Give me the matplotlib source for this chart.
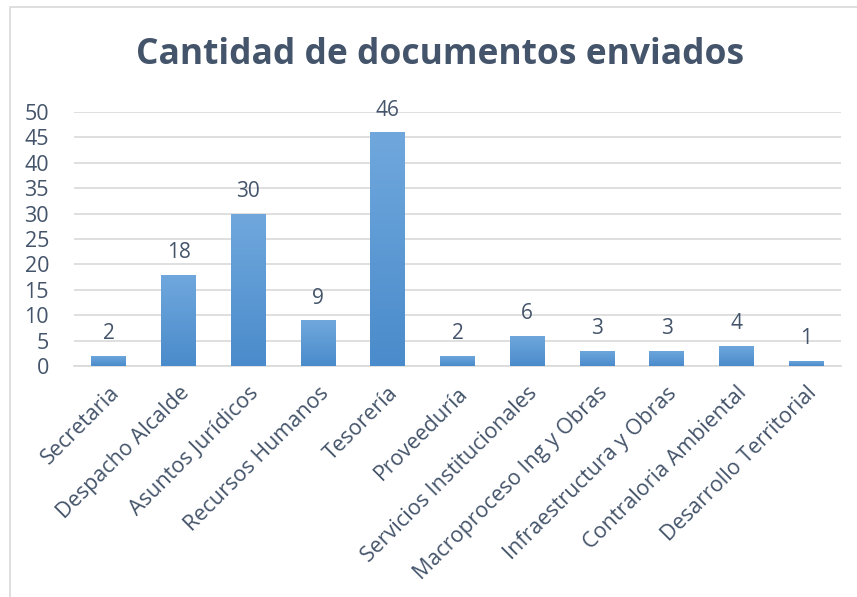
import numpy as np
import matplotlib.pyplot as plt
from matplotlib.patches import Rectangle
from matplotlib.colors import LinearSegmentedColormap

# Datos del grafico
categorias = ['Secretaria', 'Despacho Alcalde', 'Asuntos Jurídicos', 'Recursos Humanos',
              'Tesorería', 'Proveeduría', 'Servicios Institucionales',
              'Macroproceso Ing y Obras', 'Infraestructura y Obras',
              'Contraloria Ambiental', 'Desarrollo Territorial']
documentos = [2, 18, 30, 9, 46, 2, 6, 3, 3, 4, 1]
y_ticks = [0, 5, 10, 15, 20, 25, 30, 35, 40, 45, 50]

plt.rcParams['font.family'] = ['Open Sans', 'DejaVu Sans']
text_color = '#44546A'
grid_color = '#D9D9D9'

fig = plt.figure(figsize=(8.57, 5.97), dpi=100)
W, H = 857, 597
ax = fig.add_axes([74 / W, 1 - 366 / H, (841 - 74) / W, (366 - 112) / H])

x = np.arange(len(categorias))
bars = ax.bar(x, documentos, width=0.5, color='none', edgecolor='none', zorder=3)

# Degradado vertical en cada barra (claro arriba, oscuro abajo)
cmap = LinearSegmentedColormap.from_list('azul', ['#4A8BCB', '#70A8DD'])
grad = np.linspace(0, 1, 256).reshape(-1, 1)
for bar in bars:
    bx, bw, bh = bar.get_x(), bar.get_width(), bar.get_height()
    im = ax.imshow(grad, cmap=cmap, origin='lower', aspect='auto',
                   extent=[bx, bx + bw, 0, bh], zorder=3)
    im.set_clip_path(bar)

for xi, v in zip(x, documentos):
    ax.text(xi, v + 2.3, str(v), ha='center', va='bottom', fontsize=15, color=text_color)

ax.set_xlim(-0.5, len(categorias) - 0.5)
ax.set_ylim(0, 50)
ax.set_yticks(y_ticks)
ax.set_yticklabels([str(t) for t in y_ticks], fontsize=15.5, color=text_color)
ax.set_xticks(x)
ax.set_xticklabels(categorias, rotation=45, ha='right', rotation_mode='anchor',
                   fontsize=15.5, color=text_color)
ax.tick_params(axis='both', length=0)
ax.tick_params(axis='y', pad=18)
ax.tick_params(axis='x', pad=12)
ax.yaxis.grid(True, color=grid_color, linewidth=1.2, zorder=0)
ax.set_axisbelow(True)
for s in ['top', 'right', 'left']:
    ax.spines[s].set_visible(False)
ax.spines['bottom'].set_color(grid_color)
ax.spines['bottom'].set_linewidth(1.2)

fig.text(440 / W, 1 - 55 / H, 'Cantidad de documentos enviados', ha='center', va='center',
         fontsize=25.5, fontweight='bold', color=text_color)

# Borde del area del grafico
fig.patches.append(Rectangle((10 / W, -0.1), 1.2, 1 - 7 / H + 0.1, transform=fig.transFigure,
                             fill=False, edgecolor='#D9D9D9', linewidth=1.2))

fig.savefig('out.png', dpi=100)
